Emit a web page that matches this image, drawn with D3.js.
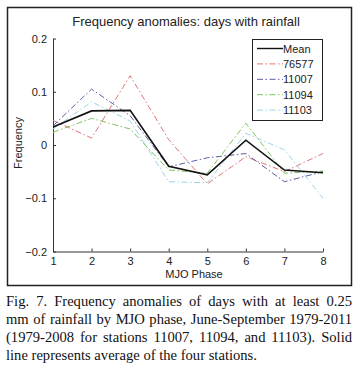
<!DOCTYPE html>
<html>
<head>
<meta charset="utf-8">
<script src="https://cdn.jsdelivr.net/npm/d3@7"></script>
<style>
  html, body { margin: 0; padding: 0; background: #fff; }
  svg { display: block; }
</style>
</head>
<body>
<svg id="chart" width="362" height="372"></svg>
<script>
// chart values
var phases = [1, 2, 3, 4, 5, 6, 7, 8];
var meanVals   = [0.034, 0.064, 0.065, -0.040, -0.056, 0.009, -0.047, -0.052];
var s76577     = [0.046, 0.013, 0.130, 0.010, -0.073, -0.022, -0.050, -0.016];
var s11007     = [0.036, 0.105, 0.055, -0.041, -0.024, -0.016, -0.069, -0.050];
var s11094     = [0.024, 0.050, 0.030, -0.047, -0.053, 0.041, -0.053, -0.049];
var s11103     = [0.030, 0.081, 0.045, -0.069, -0.071, 0.022, -0.009, -0.100];
var seriesNames = ['Mean', '76577', '11007', '11094', '11103'];
var yTicks = [-0.2, -0.1, 0, 0.1, 0.2];
var yTickLabels = ['\u22120.2', '\u22120.1', '0', '0.1', '0.2'];
var titleText = 'Frequency anomalies: days with rainfall';
var xLabel = 'MJO Phase';
var yLabel = 'Frequency';
var captionLines = [
    'Fig. 7. Frequency anomalies of days with at least 0.25',
    'mm of rainfall by MJO phase, June-September 1979-2011',
    '(1979-2008 for stations 11007, 11094, and 11103). Solid',
    'line represents average of the four stations.'
];

var sans = '"Liberation Sans", Arial, Helvetica, sans-serif';
var serif = '"Liberation Serif", "Times New Roman", serif';

var series = [
    {name: seriesNames[1], vals: s76577, color: '#e07474', dash: '6,2.5,1.5,2.5'},
    {name: seriesNames[2], vals: s11007, color: '#5c5ca8', dash: '6,2.5,1.5,2.5'},
    {name: seriesNames[3], vals: s11094, color: '#7cc45c', dash: '6,2.5,1.5,2.5'},
    {name: seriesNames[4], vals: s11103, color: '#9cd6e6', dash: '6,2.5,1.5,2.5'},
    {name: seriesNames[0], vals: meanVals, color: '#111', dash: null}
];

var svg = d3.select('#chart');

// outer frame
svg.append('rect')
    .attr('x', 7.5).attr('y', 7.5)
    .attr('width', 344).attr('height', 278)
    .attr('fill', 'none')
    .attr('stroke', '#222')
    .attr('stroke-width', 1.5);

var x = d3.scaleLinear().domain([1, 8]).range([53, 323]);
var y = d3.scaleLinear().domain([-0.2, 0.2]).range([251.5, 38.5]);

svg.append('text')
    .attr('x', 186).attr('y', 26)
    .attr('text-anchor', 'middle')
    .attr('font-family', sans)
    .attr('font-size', 13)
    .attr('fill', '#222')
    .text(titleText);

// axes, ticks point inward like matlab
var xAxis = d3.axisBottom(x).tickValues(phases).tickFormat(d3.format('d'))
    .tickSizeInner(-3).tickSizeOuter(0).tickPadding(6);
var yAxis = d3.axisLeft(y).tickValues(yTicks)
    .tickFormat(function (d, i) { return yTickLabels[i]; })
    .tickSizeInner(-3).tickSizeOuter(0).tickPadding(6);

var gx = svg.append('g').attr('transform', 'translate(0,' + y(-0.2) + ')').call(xAxis);
var gy = svg.append('g').attr('transform', 'translate(' + x(1) + ',0)').call(yAxis);
[gx, gy].forEach(function (g) {
    g.selectAll('path, line').attr('stroke', '#333');
    g.selectAll('text').attr('font-family', sans).attr('font-size', 11).attr('fill', '#222');
});

svg.append('text')
    .attr('x', 194).attr('y', 278)
    .attr('text-anchor', 'middle')
    .attr('font-family', sans).attr('font-size', 11).attr('fill', '#222')
    .text(xLabel);

svg.append('text')
    .attr('transform', 'translate(22,143) rotate(-90)')
    .attr('text-anchor', 'middle')
    .attr('font-family', sans).attr('font-size', 11).attr('fill', '#222')
    .text(yLabel);

var line = d3.line()
    .x(function (d, i) { return x(phases[i]); })
    .y(function (d) { return y(d); });

svg.append('g').selectAll('path')
    .data(series)
    .join('path')
    .attr('d', function (s) { return line(s.vals); })
    .attr('fill', 'none')
    .attr('stroke', function (s) { return s.color; })
    .attr('stroke-width', function (s) { return s.dash ? 1 : 1.6; })
    .attr('stroke-dasharray', function (s) { return s.dash; });

// legend
var legendOrder = [series[4], series[0], series[1], series[2], series[3]];
var lg = svg.append('g');
lg.append('rect')
    .attr('x', 252.5).attr('y', 39.5)
    .attr('width', 70).attr('height', 81)
    .attr('fill', '#fff')
    .attr('stroke', '#222').attr('stroke-width', 1);
var items = lg.selectAll('g.item')
    .data(legendOrder)
    .join('g')
    .attr('class', 'item')
    .attr('transform', function (d, i) { return 'translate(0,' + (48.5 + i * 15.4) + ')'; });
items.append('line')
    .attr('x1', 257).attr('x2', 283)
    .attr('stroke', function (s) { return s.color; })
    .attr('stroke-width', function (s) { return s.dash ? 1 : 1.4; })
    .attr('stroke-dasharray', function (s) { return s.dash; });
items.append('text')
    .attr('x', 283).attr('y', 4)
    .attr('font-family', sans).attr('font-size', 11).attr('fill', '#222')
    .text(function (s) { return s.name; });

// caption, justified by hand
var capLeft = 6, capRight = 352, capSize = 14.6;
captionLines.forEach(function (txt, li) {
    var words = txt.split(' ');
    var g = svg.append('g');
    var nodes = words.map(function (w) {
        return g.append('text')
            .attr('y', 306 + li * 18)
            .attr('font-family', serif).attr('font-size', capSize).attr('fill', '#111')
            .text(w);
    });
    var widths = nodes.map(function (n) { return n.node().getComputedTextLength(); });
    var total = d3.sum(widths);
    var last = li === captionLines.length - 1;
    var gap = last ? capSize * 0.25 : (capRight - capLeft - total) / (words.length - 1);
    if (gap < 2) {
        // too wide: squeeze the line a little
        var k = (capRight - capLeft - 2 * (words.length - 1)) / total;
        g.attr('transform', 'translate(' + capLeft + ',0) scale(' + k + ',1) translate(' + (-capLeft) + ',0)');
        gap = 2 / k;
    }
    var cx = capLeft;
    nodes.forEach(function (n, i) {
        n.attr('x', cx);
        cx += widths[i] + gap;
    });
});
</script>
</body>
</html>
